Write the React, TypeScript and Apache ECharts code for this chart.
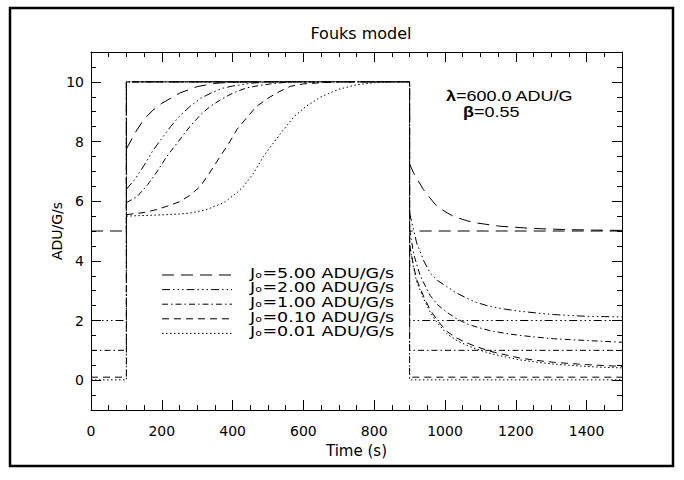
import React, { useEffect, useRef } from "react";
import * as echarts from "echarts";

// ---------- data ----------
const X_MIN = 0;
const X_MAX = 1500;
const Y_MIN = -1;
const Y_MAX = 11;
const X_MAJOR = [0, 200, 400, 600, 800, 1000, 1200, 1400];
const Y_MAJOR = [0, 2, 4, 6, 8, 10];

const PULSE_START = 100;
const PULSE_END = 900;
const PULSE_FLUX = 10;

const J0_VALUES = [5, 2, 1, 0.1, 0.01];
const J0_LABELS = ["5.00", "2.00", "1.00", "0.10", "0.01"];
const LAMBDA_TEXT = "600.0 ADU/G";
const BETA_TEXT = "0.55";

// response after the flux step up (time, ADU/G/s)
const RISE_5 = [[100, 7.75], [125, 8.3], [150, 8.75], [175, 9.05], [200, 9.28], [250, 9.62], [300, 9.84], [350, 9.95], [400, 9.99], [450, 10]];
const RISE_2 = [[100, 6.4], [125, 6.75], [150, 7.2], [175, 7.7], [200, 8.1], [225, 8.5], [250, 8.85], [280, 9.18], [310, 9.45], [340, 9.63], [370, 9.78], [400, 9.86], [450, 9.95], [500, 10]];
const RISE_1 = [[100, 5.95], [130, 6.15], [160, 6.55], [190, 7.05], [214, 7.5], [250, 8.05], [280, 8.51], [310, 8.9], [337, 9.18], [370, 9.43], [402, 9.63], [440, 9.8], [487, 9.9], [530, 9.96], [563, 10]];
const RISE_01 = [[100, 5.55], [150, 5.62], [186, 5.72], [220, 5.85], [252, 5.99], [280, 6.2], [309, 6.5], [335, 6.95], [365, 7.5], [390, 7.95], [412, 8.4], [440, 8.8], [468, 9.18], [500, 9.45], [525, 9.63], [563, 9.85], [600, 9.93], [650, 9.97], [700, 10]];
const RISE_001 = [[100, 5.5], [150, 5.52], [200, 5.54], [250, 5.57], [280, 5.6], [327, 5.72], [375, 5.95], [412, 6.28], [431, 6.5], [460, 6.95], [487, 7.5], [515, 7.95], [544, 8.4], [575, 8.85], [610, 9.2], [650, 9.5], [700, 9.75], [750, 9.9], [800, 9.97], [850, 10]];

// response after the flux step down
const DECAY_5 = [[900, 7.25], [911, 6.95], [939, 6.39], [958, 6.1], [977, 5.83], [1000, 5.65], [1024, 5.49], [1060, 5.35], [1089, 5.27], [1155, 5.16], [1240, 5.09], [1334, 5.05], [1420, 5.03], [1500, 5.02]];
const DECAY_2 = [[900, 5.6], [920, 4.6], [940, 4.0], [958, 3.59], [980, 3.33], [1005, 3.14], [1030, 2.94], [1061, 2.75], [1090, 2.6], [1127, 2.47], [1170, 2.38], [1212, 2.31], [1260, 2.25], [1306, 2.2], [1350, 2.17], [1400, 2.14], [1450, 2.13], [1500, 2.12]];
const DECAY_1 = [[900, 5.05], [912, 4.2], [930, 3.5], [958, 2.84], [980, 2.52], [1005, 2.28], [1030, 2.08], [1061, 1.89], [1090, 1.78], [1127, 1.66], [1170, 1.57], [1212, 1.5], [1260, 1.44], [1306, 1.39], [1350, 1.36], [1400, 1.33], [1450, 1.3], [1500, 1.27]];
const DECAY_01 = [[900, 4.55], [910, 3.9], [920, 3.37], [940, 2.8], [958, 2.36], [980, 1.98], [1005, 1.64], [1030, 1.43], [1061, 1.25], [1090, 1.12], [1127, 0.97], [1170, 0.85], [1212, 0.74], [1260, 0.66], [1306, 0.6], [1350, 0.56], [1400, 0.52], [1450, 0.49], [1500, 0.46]];
const DECAY_001 = [[900, 4.5], [910, 3.85], [920, 3.3], [940, 2.72], [958, 2.28], [980, 1.9], [1005, 1.56], [1030, 1.35], [1061, 1.17], [1090, 1.04], [1127, 0.9], [1170, 0.78], [1212, 0.68], [1260, 0.6], [1306, 0.54], [1350, 0.5], [1400, 0.46], [1450, 0.43], [1500, 0.41]];

const RISES = [RISE_5, RISE_2, RISE_1, RISE_01, RISE_001];
const DECAYS = [DECAY_5, DECAY_2, DECAY_1, DECAY_01, DECAY_001];

// ---------- styles ----------
const DASHES: number[][] = [
  [12, 7],
  [8, 3, 1.5, 3, 1.5, 3, 1.5, 3],
  [6, 3, 1.5, 3],
  [7, 5],
  [1.5, 2.5],
];
const FONT = "DejaVu Sans";
const HELV = "Liberation Sans";

function buildOption(): any {
  const series: any[] = [];
  J0_VALUES.forEach((j, i) => {
    const common = {
      type: "line",
      symbol: "none",
      showSymbol: false,
      silent: true,
      clip: true,
      lineStyle: { color: "#000", width: 1, type: DASHES[i] },
      z: 3,
    };
    series.push({
      ...common,
      name: "input " + J0_LABELS[i],
      data: [
        [X_MIN, j],
        [PULSE_START, j],
        [PULSE_START, PULSE_FLUX],
        [PULSE_END, PULSE_FLUX],
        [PULSE_END, j],
        [X_MAX, j],
      ],
    });
    series.push({ ...common, name: "rise " + J0_LABELS[i], data: RISES[i] });
    series.push({ ...common, name: "decay " + J0_LABELS[i], data: DECAYS[i] });
  });

  const line = { show: true, onZero: false, lineStyle: { color: "#000", width: 1 } };
  const noLabel = { show: false };
  const noSplit = { show: false };
  const fmt = (v: number) => String(v);

  const xAxes = [
    {
      type: "value", position: "bottom", min: X_MIN, max: X_MAX,
      axisLine: line,
      axisTick: { show: true, inside: true, length: 10, customValues: X_MAJOR, lineStyle: { color: "#000" } },
      axisLabel: { show: true, customValues: X_MAJOR, formatter: fmt, color: "#000", fontFamily: FONT, fontSize: 14, margin: 14 },
      splitLine: noSplit,
      name: "Time (s)", nameLocation: "middle", nameGap: 33, nameMoveOverlap: false,
      nameTextStyle: { color: "#000", fontFamily: FONT, fontSize: 15 },
    },
    {
      type: "value", position: "bottom", min: X_MIN, max: X_MAX, interval: 50,
      axisLine: { ...line, show: false },
      axisTick: { show: true, inside: true, length: 5, lineStyle: { color: "#000" } },
      axisLabel: noLabel, splitLine: noSplit,
    },
    {
      type: "value", position: "top", min: X_MIN, max: X_MAX,
      axisLine: line,
      axisTick: { show: true, inside: true, length: 10, customValues: X_MAJOR, lineStyle: { color: "#000" } },
      axisLabel: noLabel, splitLine: noSplit,
    },
    {
      type: "value", position: "top", min: X_MIN, max: X_MAX, interval: 50,
      axisLine: { ...line, show: false },
      axisTick: { show: true, inside: true, length: 5, lineStyle: { color: "#000" } },
      axisLabel: noLabel, splitLine: noSplit,
    },
  ];
  const yAxes = [
    {
      type: "value", position: "left", min: Y_MIN, max: Y_MAX,
      axisLine: line,
      axisTick: { show: true, inside: true, length: 10, customValues: Y_MAJOR, lineStyle: { color: "#000" } },
      axisLabel: { show: true, customValues: Y_MAJOR, formatter: fmt, color: "#000", fontFamily: FONT, fontSize: 14, margin: 7 },
      splitLine: noSplit,
      name: "ADU/G/s", nameLocation: "middle", nameGap: 27, nameRotate: 90, nameMoveOverlap: false,
      nameTextStyle: { color: "#000", fontFamily: FONT, fontSize: 14 },
    },
    {
      type: "value", position: "left", min: Y_MIN, max: Y_MAX, interval: 0.5,
      axisLine: { ...line, show: false },
      axisTick: { show: true, inside: true, length: 5, lineStyle: { color: "#000" } },
      axisLabel: noLabel, splitLine: noSplit,
    },
    {
      type: "value", position: "right", min: Y_MIN, max: Y_MAX,
      axisLine: line,
      axisTick: { show: true, inside: true, length: 10, customValues: Y_MAJOR, lineStyle: { color: "#000" } },
      axisLabel: noLabel, splitLine: noSplit,
    },
    {
      type: "value", position: "right", min: Y_MIN, max: Y_MAX, interval: 0.5,
      axisLine: { ...line, show: false },
      axisTick: { show: true, inside: true, length: 5, lineStyle: { color: "#000" } },
      axisLabel: noLabel, splitLine: noSplit,
    },
  ];

  const legendEls: any[] = [];
  J0_LABELS.forEach((lab, i) => {
    const yl = 275 + i * 14.6;
    legendEls.push({
      type: "line",
      shape: { x1: 162, y1: yl, x2: 232, y2: yl },
      style: { stroke: "#000", lineWidth: 1, lineDash: DASHES[i] },
      silent: true,
    });
    legendEls.push({
      type: "text",
      x: 250,
      y: yl - 2,
      scaleX: 1.25,
      style: {
        text: "Jₒ=" + lab + " ADU/G/s",
        fontFamily: FONT,
        fontSize: 14,
        lineHeight: 13,
        fill: "#000",
        verticalAlign: "middle",
      },
      silent: true,
    });
  });

  const annot = (x: number, y: number, sym: string, rest: string) => ({
    type: "text",
    x,
    y,
    scaleX: 1.2,
    style: {
      text: "{b|" + sym + "}{n|=" + rest + "}",
      verticalAlign: "middle",
      rich: {
        b: { fontFamily: HELV, fontSize: 15, lineHeight: 14, fontWeight: "bold", fill: "#000" },
        n: { fontFamily: HELV, fontSize: 15, lineHeight: 14, fill: "#000" },
      },
    },
    silent: true,
  });

  return {
    animation: false,
    backgroundColor: "#fff",
    title: {
      text: "Fouks model",
      left: 356,
      top: 20,
      textAlign: "center",
      textStyle: { color: "#000", fontFamily: FONT, fontSize: 16, fontWeight: "normal" },
    },
    grid: { left: 91, right: 62, top: 52, bottom: 70 },
    xAxis: xAxes,
    yAxis: yAxes,
    series,
    graphic: [
      {
        type: "rect",
        shape: { x: 10, y: 8, width: 663, height: 458 },
        style: { fill: "none", stroke: "#000", lineWidth: 2.5 },
        silent: true,
        z: 0,
      },
      ...legendEls,
      annot(446, 96, "λ", LAMBDA_TEXT),
      annot(463, 112, "β", BETA_TEXT),
    ],
  };
}

export default function App() {
  const ref = useRef<HTMLDivElement>(null);
  useEffect(() => {
    if (!ref.current) return;
    const chart = echarts.init(ref.current, null, { renderer: "svg" });
    chart.setOption(buildOption());
    return () => chart.dispose();
  }, []);
  return (
    <div
      ref={ref}
      style={{ position: "absolute", left: 0, top: 0, width: 684, height: 480, background: "#fff" }}
    />
  );
}
